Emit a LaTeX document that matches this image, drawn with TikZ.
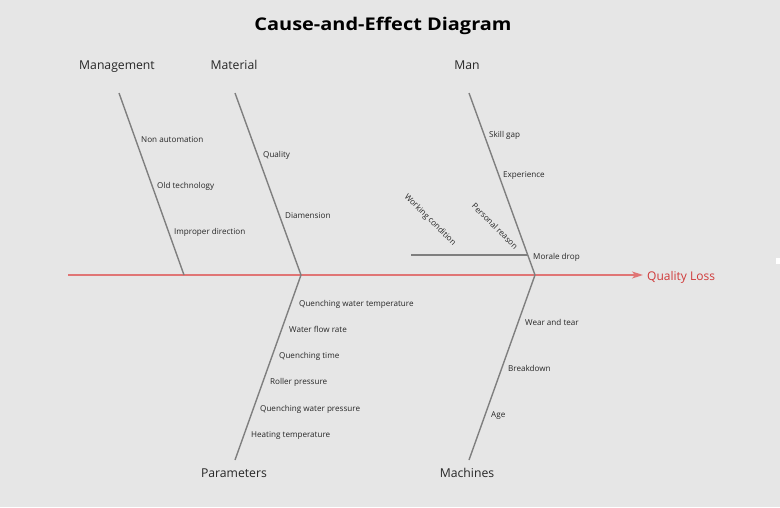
\documentclass[tikz,border=0pt]{standalone}
\usepackage{fontspec}
\setmainfont{Open Sans}
\usetikzlibrary{arrows.meta}
\definecolor{bg}{HTML}{E6E6E6}
\definecolor{bonec}{HTML}{7F7F7F}
\definecolor{spinec}{HTML}{E07575}
\definecolor{effectc}{HTML}{D03A3A}
\tikzset{
  bone/.style={draw=bonec, line width=1.4pt},
  cat/.style={font=\fontsize{12.2}{14}\selectfont, text=black!85, inner sep=0pt, anchor=base},
  cause/.style={font=\fontsize{8.1}{10}\selectfont, text=black!85, anchor=base west, inner sep=0pt},
  rcause/.style={font=\fontsize{8.1}{10}\selectfont, text=black!85, rotate=-45, inner sep=0pt},
}
\begin{document}
\begin{tikzpicture}[x=1pt,y=-1pt]
\fill[bg] (0,0) rectangle (780,507);
\useasboundingbox (0,0) rectangle (780,507);
\fill[white] (776,258) rectangle (780,264);
\node[font=\bfseries\fontsize{17.5}{21}\selectfont, inner sep=0pt, anchor=base] (title) at (383,30.7) {\scalebox{1.14}[1]{Cause-and-Effect Diagram}};
% spine
\coordinate (tail) at (68,275);
\coordinate (head) at (643,275);
\draw[draw=spinec, line width=1.4pt, -{Stealth[length=11pt,width=7pt,inset=3pt]}] (tail) -- (head);
\node[text=effectc, font=\fontsize{12}{14}\selectfont, anchor=base west, inner sep=0pt] (effect) at (647,280) {Quality Loss};
% bone coordinates
\coordinate (mgT) at (119,93);  \coordinate (mgB) at (184,275);
\coordinate (maT) at (235,93);  \coordinate (maB) at (301,275);
\coordinate (mnT) at (469,93);  \coordinate (mnB) at (535,275);
\coordinate (paB) at (235,460); \coordinate (paT) at (301,275);
\coordinate (mcB) at (469,460); \coordinate (mcT) at (535,275);
\draw[bone] (mgT) -- (mgB);
\draw[bone] (maT) -- (maB);
\draw[bone] (mnT) -- (mnB);
\draw[bone] (paT) -- (paB);
\draw[bone] (mcT) -- (mcB);
% categories
\node[cat] (management) at (117,69) {Management};
\node[cat] (material) at (234,69) {Material};
\node[cat] (man) at (467,69) {Man};
\node[cat] (parameters) at (234,477) {Parameters};
\node[cat] (machines) at (467,477) {Machines};
% management causes
\node[cause] (c1) at (141,142.5) {Non automation};
\node[cause] (c2) at (157,188.5) {Old technology};
\node[cause] (c3) at (174,234.5) {Improper direction};
% material
\node[cause] (c4) at (263,157.5) {Quality};
\node[cause] (c5) at (285,218.5) {Diamension};
% man
\node[cause] (c6) at (489,137.5) {Skill gap};
\node[cause] (c7) at (503,177.5) {Experience};
\node[cause] (c8) at (533,259.5) {Morale drop};
\coordinate (mdL) at (411,255);
\coordinate (mdR) at (528,255);
\draw[bone] (mdL) -- (mdR);
\node[rcause] (wc) at (430,220) {Working condition};
\node[rcause] (pr) at (495,226) {Personal reason};
% parameters
\node[cause] (p1) at (299,306.5) {Quenching water temperature};
\node[cause] (p2) at (289,332.5) {Water flow rate};
\node[cause] (p3) at (279,358.5) {Quenching time};
\node[cause] (p4) at (270,384.5) {Roller pressure};
\node[cause] (p5) at (260,411.5) {Quenching water pressure};
\node[cause] (p6) at (251,437.5) {Heating temperature};
% machines
\node[cause] (m1) at (525,325.5) {Wear and tear};
\node[cause] (m2) at (508,371.5) {Breakdown};
\node[cause] (m3) at (491,417.5) {Age};
\end{tikzpicture}
\end{document}
